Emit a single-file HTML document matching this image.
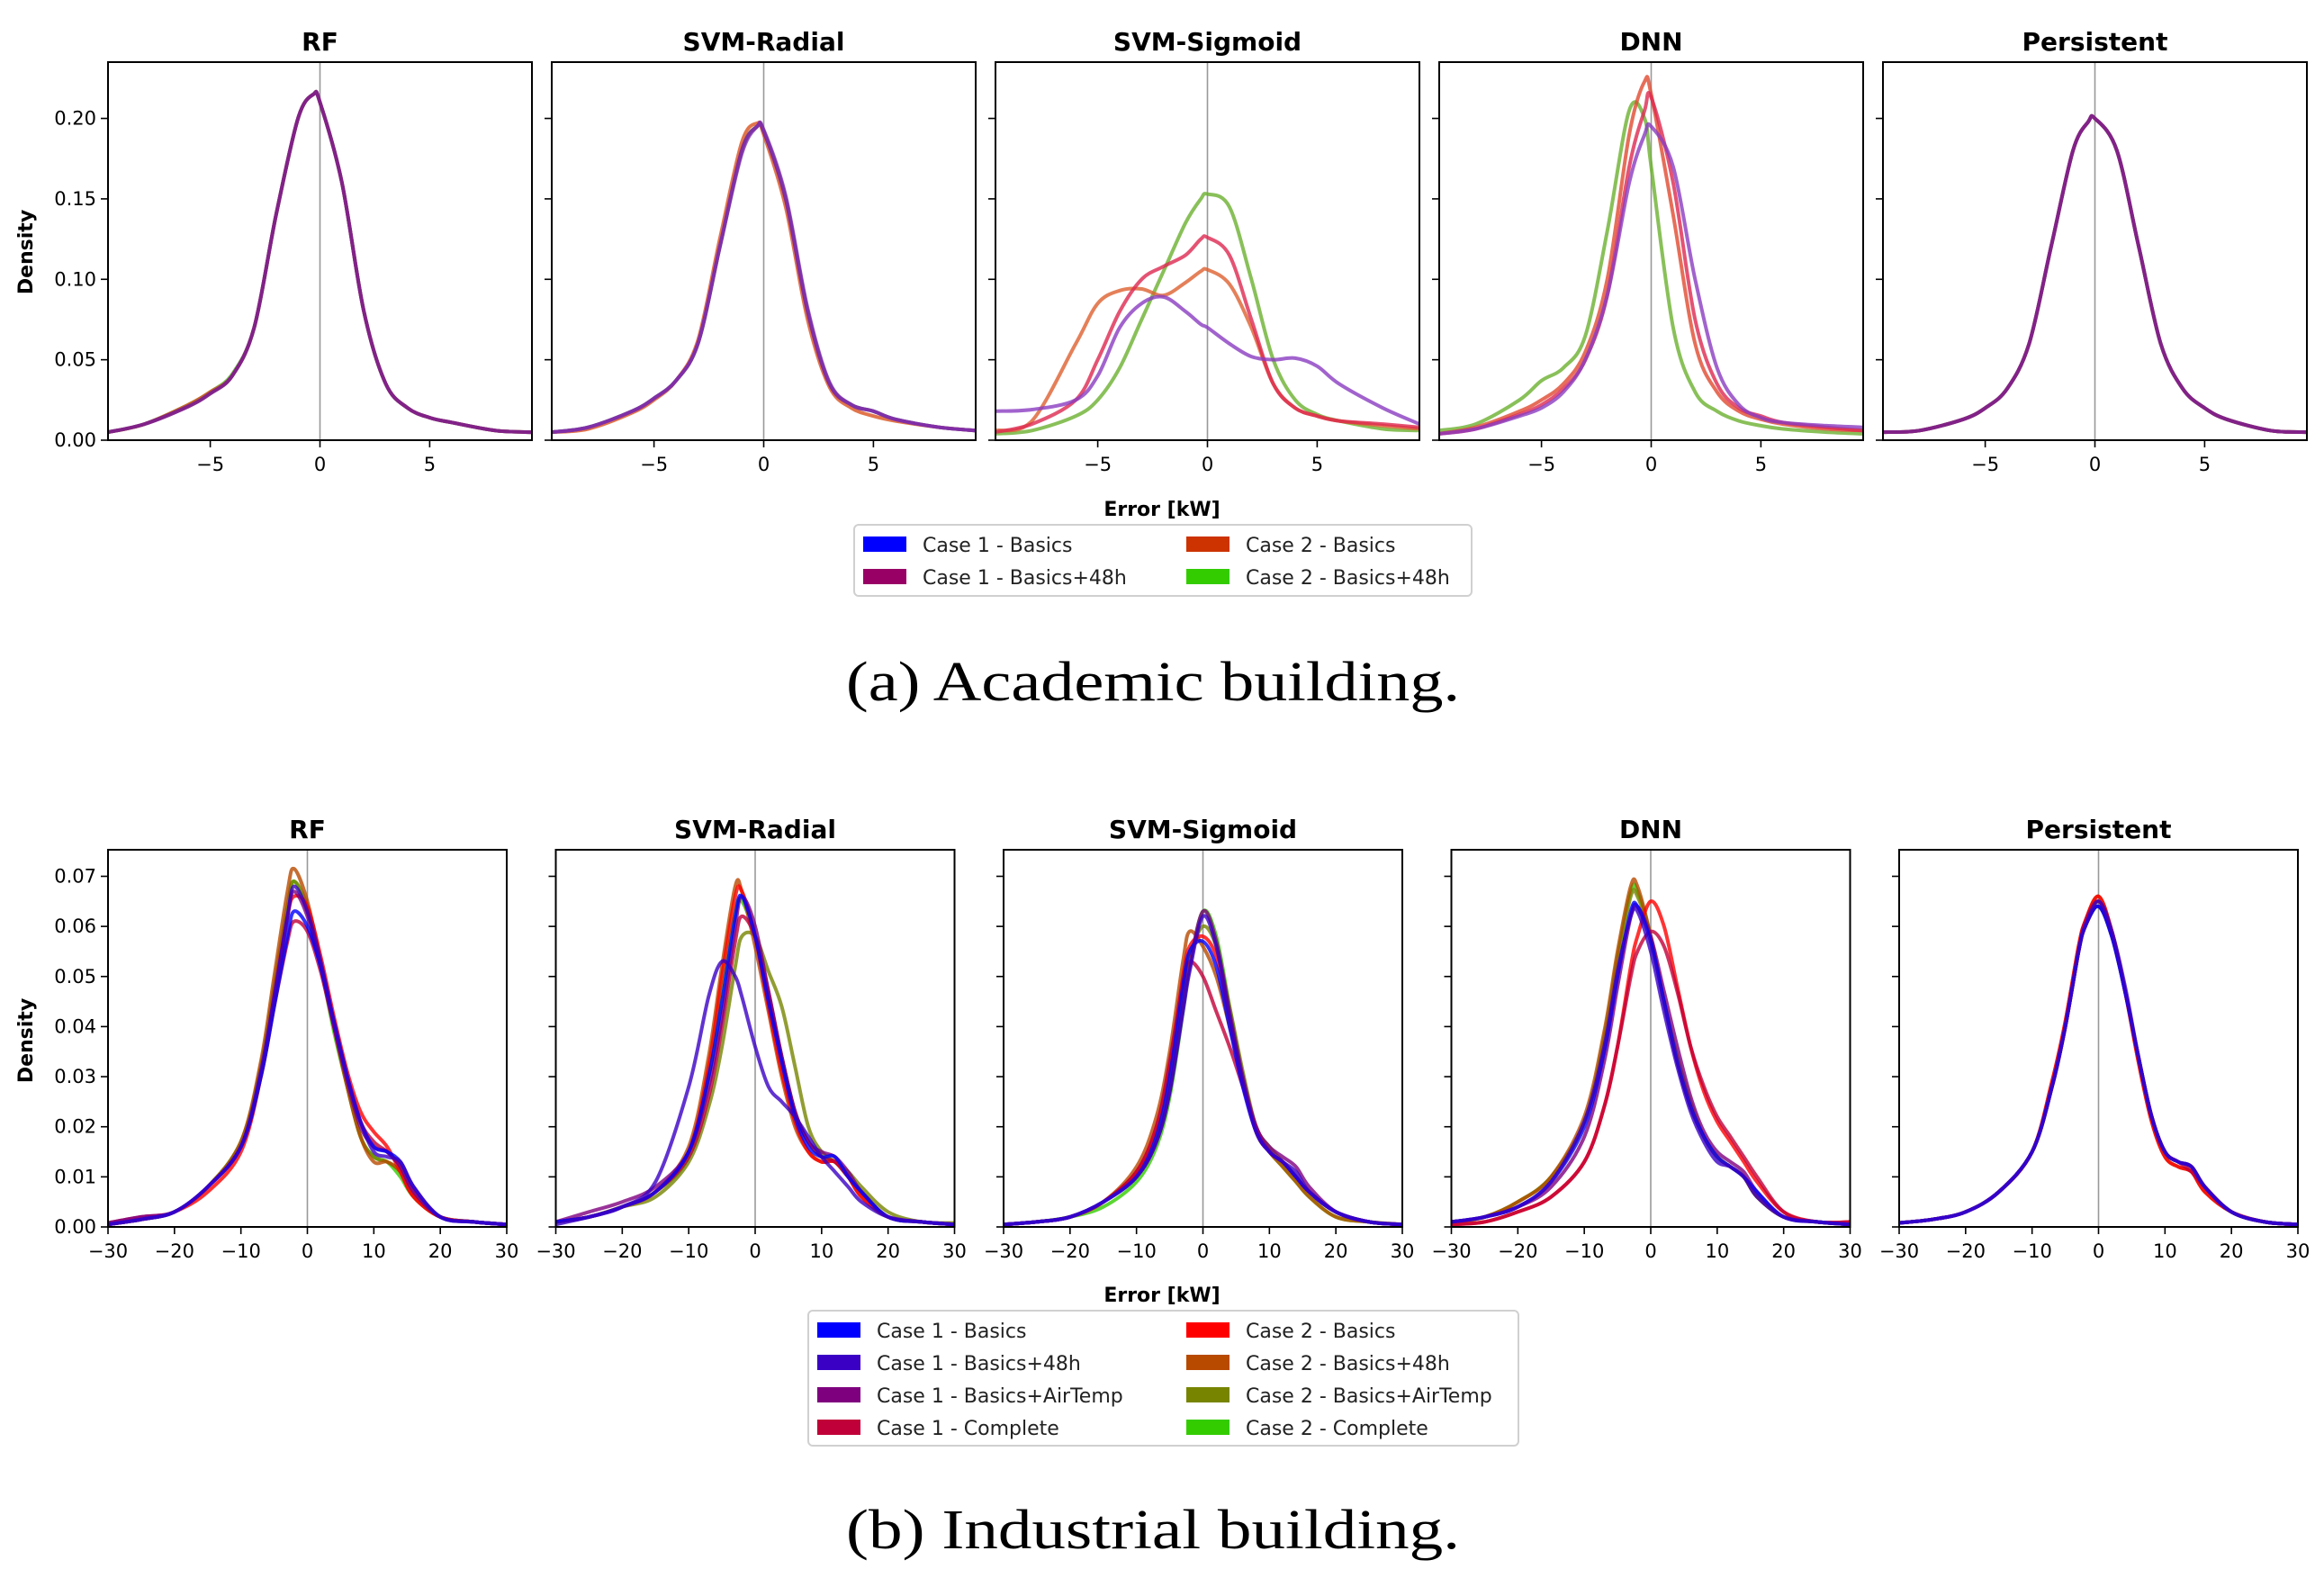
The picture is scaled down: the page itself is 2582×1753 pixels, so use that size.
<!DOCTYPE html>
<html><head><meta charset="utf-8"><style>
html,body{margin:0;padding:0;background:#fff;}
svg{display:block;font-family:"DejaVu Sans","Liberation Sans",sans-serif;}
</style></head><body>
<svg id="fig" width="2582" height="1753" viewBox="0 0 2582 1753" xmlns="http://www.w3.org/2000/svg"></svg>
<script>
// ---------- data ----------
const methods = ["RF","SVM-Radial","SVM-Sigmoid","DNN","Persistent"];
const topSeriesNames = ["Case 1 - Basics","Case 1 - Basics+48h","Case 2 - Basics","Case 2 - Basics+48h"];
const topSeriesColors = ["#0000ff","#990066","#cc3300","#33cc00"];
const topX = [-9.66,-8,-6,-5,-4,-3,-2,-1,-0.3,0,1,2,3,4,5,6,8,9.66];
const topXTicks = [-5,0,5];
const topYTicks = [0,0.05,0.10,0.15,0.20];
const topYLabels = ["0.00","0.05","0.10","0.15","0.20"];
const topRF = [
 [0.005,0.01,0.022,0.03,0.041,0.07,0.14,0.2,0.215,0.21,0.16,0.08,0.035,0.02,0.014,0.011,0.006,0.005],
 [0.005,0.01,0.022,0.03,0.04,0.07,0.14,0.2,0.215,0.21,0.16,0.08,0.035,0.02,0.014,0.011,0.006,0.005],
 [0.005,0.01,0.021,0.029,0.04,0.07,0.14,0.2,0.215,0.21,0.16,0.08,0.035,0.02,0.014,0.011,0.006,0.005],
 [0.005,0.01,0.021,0.029,0.04,0.07,0.14,0.2,0.215,0.21,0.16,0.08,0.035,0.02,0.014,0.011,0.006,0.005]];
const topSVR = [
 [0.005,0.008,0.018,0.026,0.037,0.06,0.12,0.18,0.195,0.192,0.15,0.08,0.035,0.022,0.018,0.013,0.008,0.006],
 [0.005,0.007,0.017,0.025,0.037,0.062,0.125,0.185,0.197,0.19,0.145,0.075,0.033,0.02,0.015,0.012,0.008,0.006],
 [0.005,0.008,0.018,0.026,0.037,0.06,0.12,0.18,0.195,0.192,0.15,0.08,0.035,0.022,0.018,0.013,0.008,0.006],
 [0.005,0.008,0.018,0.026,0.037,0.06,0.12,0.178,0.195,0.193,0.152,0.082,0.036,0.022,0.018,0.013,0.008,0.006]];
const topSVS = [
 [0.004,0.006,0.015,0.025,0.045,0.075,0.105,0.135,0.15,0.153,0.145,0.1,0.05,0.025,0.016,0.012,0.007,0.006],
 [0.006,0.012,0.06,0.085,0.093,0.094,0.09,0.098,0.105,0.106,0.097,0.07,0.035,0.02,0.015,0.012,0.009,0.007],
 [0.005,0.01,0.025,0.05,0.08,0.1,0.108,0.115,0.125,0.126,0.115,0.075,0.035,0.02,0.015,0.012,0.01,0.008],
 [0.018,0.019,0.025,0.04,0.07,0.085,0.089,0.08,0.072,0.07,0.06,0.052,0.05,0.051,0.046,0.035,0.02,0.01]];
const topDNN = [
 [0.006,0.01,0.025,0.037,0.045,0.065,0.13,0.205,0.2,0.17,0.07,0.03,0.018,0.012,0.009,0.007,0.005,0.004],
 [0.004,0.008,0.018,0.025,0.035,0.055,0.1,0.19,0.223,0.215,0.14,0.06,0.03,0.018,0.013,0.01,0.007,0.006],
 [0.004,0.007,0.016,0.022,0.032,0.05,0.09,0.17,0.205,0.213,0.16,0.075,0.035,0.02,0.015,0.011,0.008,0.006],
 [0.004,0.007,0.015,0.02,0.03,0.05,0.09,0.16,0.19,0.195,0.17,0.1,0.045,0.022,0.014,0.011,0.009,0.008]];
const topPers = [
 [0.005,0.006,0.013,0.02,0.032,0.06,0.12,0.18,0.198,0.2,0.18,0.12,0.06,0.032,0.02,0.013,0.006,0.005],
 [0.005,0.006,0.013,0.02,0.032,0.06,0.12,0.18,0.198,0.2,0.18,0.12,0.06,0.032,0.02,0.013,0.006,0.005],
 [0.005,0.006,0.013,0.02,0.032,0.06,0.12,0.18,0.198,0.2,0.18,0.12,0.06,0.032,0.02,0.013,0.006,0.005],
 [0.005,0.006,0.013,0.02,0.032,0.06,0.12,0.18,0.198,0.2,0.18,0.12,0.06,0.032,0.02,0.013,0.006,0.005]];
const topPanels = [topRF,topSVR,topSVS,topDNN,topPers];
const topDrawColorsPerPanel = [
 ["#4caf1a","#d9531e","#7a1a9a","#80208a"],
 ["#4caf1a","#d9531e","#7a1a9a","#8030b0"],
 ["#6cb030","#dd6030","#dd2850","#8a3cc0"],
 ["#6cb030","#e04a30","#dd2850","#8a3cc0"],
 ["#4caf1a","#d9531e","#7a1a9a","#80208a"]];

const botSeriesNames = ["Case 1 - Basics","Case 1 - Basics+48h","Case 1 - Basics+AirTemp","Case 1 - Complete","Case 2 - Basics","Case 2 - Basics+48h","Case 2 - Basics+AirTemp","Case 2 - Complete"];
const botSeriesColors = ["#0000ff","#3a00c4","#7f007f","#c00038","#ff0000","#b84a00","#778400","#33cc00"];
const botX = [-30,-25,-20,-15,-10,-7,-5,-3,-2,0,2,4,6,8,10,12,14,16,20,25,30];
const botXTicks = [-30,-20,-10,0,10,20,30];
const botYTicks = [0,0.01,0.02,0.03,0.04,0.05,0.06,0.07];
const botYLabels = ["0.00","0.01","0.02","0.03","0.04","0.05","0.06","0.07"];
const botRF = [
 [0.0005,0.0015,0.003,0.008,0.016,0.03,0.044,0.058,0.063,0.06,0.052,0.041,0.03,0.021,0.016,0.015,0.013,0.008,0.002,0.001,0.0005],
 [0.0005,0.0015,0.003,0.008,0.016,0.031,0.046,0.062,0.068,0.063,0.053,0.041,0.03,0.021,0.015,0.014,0.013,0.008,0.002,0.001,0.0005],
 [0.0008,0.002,0.003,0.008,0.016,0.03,0.045,0.062,0.067,0.062,0.052,0.04,0.029,0.02,0.016,0.015,0.012,0.007,0.002,0.001,0.0005],
 [0.0008,0.002,0.003,0.008,0.016,0.03,0.044,0.057,0.061,0.059,0.051,0.04,0.03,0.021,0.017,0.015,0.012,0.007,0.002,0.001,0.0005],
 [0.0005,0.0015,0.003,0.007,0.015,0.03,0.046,0.062,0.066,0.064,0.054,0.042,0.031,0.023,0.019,0.016,0.011,0.006,0.002,0.001,0.0005],
 [0.0005,0.0015,0.003,0.008,0.017,0.033,0.05,0.067,0.0715,0.065,0.053,0.04,0.028,0.018,0.013,0.013,0.011,0.006,0.002,0.001,0.0005],
 [0.0005,0.0015,0.003,0.008,0.017,0.032,0.048,0.064,0.069,0.064,0.053,0.04,0.028,0.018,0.014,0.013,0.011,0.006,0.002,0.001,0.0005],
 [0.0005,0.0015,0.003,0.008,0.017,0.032,0.048,0.064,0.069,0.063,0.052,0.039,0.028,0.018,0.014,0.013,0.01,0.006,0.002,0.001,0.0005]];
const botSVR = [
 [0.001,0.002,0.004,0.007,0.015,0.03,0.045,0.062,0.066,0.058,0.045,0.033,0.022,0.016,0.014,0.014,0.01,0.007,0.002,0.001,0.0005],
 [0.0005,0.002,0.004,0.009,0.028,0.046,0.053,0.05,0.046,0.036,0.028,0.025,0.022,0.018,0.014,0.011,0.008,0.005,0.002,0.001,0.0005],
 [0.001,0.003,0.005,0.008,0.015,0.028,0.042,0.06,0.066,0.06,0.047,0.034,0.023,0.017,0.015,0.014,0.011,0.007,0.002,0.001,0.0005],
 [0.001,0.002,0.004,0.007,0.014,0.026,0.04,0.057,0.062,0.058,0.047,0.034,0.023,0.017,0.014,0.013,0.01,0.007,0.002,0.001,0.0005],
 [0.001,0.002,0.004,0.007,0.015,0.032,0.05,0.066,0.067,0.058,0.044,0.031,0.021,0.015,0.013,0.013,0.01,0.006,0.002,0.001,0.0005],
 [0.001,0.002,0.004,0.007,0.016,0.034,0.052,0.068,0.067,0.056,0.043,0.03,0.02,0.015,0.013,0.013,0.01,0.006,0.002,0.001,0.0005],
 [0.001,0.002,0.004,0.006,0.013,0.024,0.036,0.052,0.058,0.058,0.051,0.044,0.032,0.02,0.015,0.013,0.011,0.008,0.003,0.001,0.0008],
 [0.001,0.002,0.004,0.007,0.014,0.03,0.047,0.063,0.065,0.058,0.046,0.034,0.023,0.017,0.014,0.013,0.01,0.007,0.002,0.001,0.0005]];
const botSVS = [
 [0.0005,0.001,0.002,0.005,0.01,0.018,0.03,0.048,0.055,0.057,0.052,0.04,0.028,0.019,0.015,0.013,0.01,0.007,0.003,0.001,0.0005],
 [0.0005,0.001,0.002,0.005,0.01,0.017,0.027,0.043,0.051,0.062,0.056,0.042,0.029,0.019,0.015,0.013,0.011,0.007,0.003,0.001,0.0005],
 [0.0005,0.001,0.002,0.005,0.01,0.017,0.027,0.044,0.052,0.063,0.057,0.043,0.03,0.02,0.016,0.014,0.012,0.008,0.003,0.001,0.0005],
 [0.0005,0.001,0.002,0.005,0.011,0.02,0.033,0.049,0.053,0.05,0.043,0.036,0.028,0.02,0.015,0.013,0.01,0.007,0.003,0.001,0.0005],
 [0.0005,0.001,0.002,0.005,0.011,0.02,0.032,0.05,0.056,0.058,0.054,0.042,0.029,0.019,0.015,0.013,0.01,0.007,0.003,0.001,0.0005],
 [0.0005,0.001,0.002,0.005,0.012,0.022,0.035,0.053,0.059,0.056,0.05,0.04,0.029,0.019,0.015,0.012,0.009,0.006,0.002,0.001,0.0005],
 [0.0005,0.001,0.002,0.005,0.011,0.019,0.03,0.047,0.054,0.06,0.056,0.044,0.031,0.02,0.016,0.013,0.01,0.007,0.003,0.001,0.0005],
 [0.0005,0.001,0.002,0.004,0.009,0.016,0.026,0.043,0.052,0.063,0.058,0.044,0.03,0.019,0.015,0.012,0.009,0.006,0.002,0.001,0.0005]];
const botDNN = [
 [0.001,0.002,0.004,0.009,0.02,0.035,0.05,0.063,0.064,0.057,0.045,0.033,0.024,0.018,0.014,0.012,0.01,0.007,0.002,0.001,0.0005],
 [0.001,0.002,0.004,0.009,0.021,0.036,0.051,0.062,0.063,0.055,0.043,0.032,0.023,0.017,0.013,0.012,0.01,0.006,0.002,0.001,0.0005],
 [0.001,0.002,0.004,0.008,0.018,0.033,0.048,0.062,0.064,0.058,0.047,0.036,0.026,0.019,0.015,0.013,0.011,0.007,0.002,0.001,0.0005],
 [0.0005,0.001,0.003,0.006,0.013,0.024,0.036,0.05,0.055,0.059,0.056,0.047,0.036,0.028,0.022,0.018,0.014,0.01,0.003,0.001,0.001],
 [0.0005,0.001,0.003,0.006,0.013,0.024,0.036,0.052,0.058,0.065,0.06,0.048,0.036,0.027,0.021,0.017,0.013,0.009,0.003,0.001,0.001],
 [0.001,0.002,0.005,0.01,0.022,0.039,0.055,0.068,0.068,0.058,0.045,0.033,0.024,0.018,0.014,0.012,0.01,0.006,0.002,0.001,0.0005],
 [0.001,0.002,0.005,0.01,0.021,0.037,0.053,0.066,0.066,0.058,0.045,0.034,0.025,0.018,0.014,0.012,0.01,0.006,0.002,0.001,0.0005],
 [0.001,0.002,0.005,0.01,0.021,0.038,0.054,0.067,0.067,0.058,0.045,0.033,0.024,0.018,0.014,0.012,0.01,0.006,0.002,0.001,0.0005]];
const botPers = [
 [0.0008,0.0015,0.003,0.007,0.015,0.028,0.04,0.055,0.06,0.064,0.058,0.047,0.034,0.022,0.015,0.013,0.012,0.008,0.003,0.001,0.0005],
 [0.0008,0.0015,0.003,0.007,0.015,0.028,0.04,0.055,0.06,0.065,0.059,0.048,0.034,0.022,0.015,0.013,0.012,0.008,0.003,0.001,0.0005],
 [0.0008,0.0015,0.003,0.007,0.015,0.028,0.04,0.055,0.06,0.064,0.058,0.047,0.034,0.022,0.015,0.013,0.012,0.008,0.003,0.001,0.0005],
 [0.0008,0.0015,0.003,0.007,0.015,0.028,0.04,0.055,0.061,0.065,0.059,0.047,0.034,0.022,0.015,0.013,0.011,0.008,0.003,0.001,0.0005],
 [0.0008,0.0015,0.003,0.007,0.015,0.029,0.041,0.056,0.061,0.066,0.059,0.047,0.033,0.021,0.014,0.012,0.011,0.007,0.003,0.001,0.0005],
 [0.0008,0.0015,0.003,0.007,0.015,0.029,0.041,0.056,0.061,0.066,0.059,0.047,0.033,0.021,0.014,0.012,0.011,0.007,0.003,0.001,0.0005],
 [0.0008,0.0015,0.003,0.007,0.015,0.028,0.04,0.055,0.06,0.065,0.059,0.047,0.034,0.022,0.015,0.013,0.012,0.008,0.003,0.001,0.0005],
 [0.0008,0.0015,0.003,0.007,0.015,0.028,0.04,0.055,0.06,0.064,0.058,0.047,0.034,0.022,0.015,0.013,0.012,0.008,0.003,0.001,0.0005]];
const botPanels = [botRF,botSVR,botSVS,botDNN,botPers];
const botDrawOrder = [7,6,5,4,3,2,0,1];

// ---------- drawing ----------
const NS="http://www.w3.org/2000/svg";
const svg=document.getElementById('fig');
function mk(tag,attrs,parent){const e=document.createElementNS(NS,tag);for(const k in attrs)e.setAttribute(k,attrs[k]);(parent||svg).appendChild(e);return e;}
function txt(s,attrs,parent){const e=mk('text',attrs,parent);e.textContent=s;return e;}
function smoothPath(pts){
  let d=`M${pts[0][0].toFixed(1)},${pts[0][1].toFixed(1)}`;
  for(let i=0;i<pts.length-1;i++){
    const p0=pts[Math.max(0,i-1)],p1=pts[i],p2=pts[i+1],p3=pts[Math.min(pts.length-1,i+2)];
    const c1=[p1[0]+(p2[0]-p0[0])/6,p1[1]+(p2[1]-p0[1])/6];
    const c2=[p2[0]-(p3[0]-p1[0])/6,p2[1]-(p3[1]-p1[1])/6];
    d+=` C${c1[0].toFixed(1)},${c1[1].toFixed(1)} ${c2[0].toFixed(1)},${c2[1].toFixed(1)} ${p2[0].toFixed(1)},${p2[1].toFixed(1)}`;
  }
  return d;
}
function panel(cfg){
  const g=mk('g',{});
  
  
  const sx=v=>cfg.x+(v-cfg.xmin)/(cfg.xmax-cfg.xmin)*cfg.w;
  const sy=v=>cfg.y+cfg.h-(v-cfg.ymin)/(cfg.ymax-cfg.ymin)*cfg.h;
  const z=mk('line',{x1:sx(0),x2:sx(0),y1:cfg.y,y2:cfg.y+cfg.h,stroke:'#999',"stroke-width":1.6},g);
  
  
  cfg.order.forEach(si=>{
    const pts=cfg.xs.map((xv,i)=>[sx(xv),sy(cfg.series[si][i])]);
    const p=mk('path',{d:smoothPath(pts),fill:'none',stroke:cfg.colors[si],"stroke-width":4,"stroke-opacity":0.8,"stroke-linejoin":"round"},g);
    
    
  });
  const f=mk('rect',{x:cfg.x,y:cfg.y,width:cfg.w,height:cfg.h,fill:'none',stroke:'#000',"stroke-width":2},g);
  
  
  cfg.xticks.forEach(t=>{
    mk('line',{x1:sx(t),x2:sx(t),y1:cfg.y+cfg.h,y2:cfg.y+cfg.h+8,stroke:'#000',"stroke-width":1.6},g);
    const l=txt(String(t).replace('-','\u2212'),{x:sx(t),y:cfg.y+cfg.h+34,"font-size":21,"text-anchor":"middle",fill:'#000'},g);
    
    
  });
  cfg.yticks.forEach((t,i)=>{
    mk('line',{x1:cfg.x-8,x2:cfg.x,y1:sy(t),y2:sy(t),stroke:'#000',"stroke-width":1.6},g);
    if(cfg.showY){
      const l=txt(cfg.ylabels[i],{x:cfg.x-13,y:sy(t)+7,"font-size":21,"text-anchor":"end",fill:'#000'},g);
      
      
    }
  });
  const t=txt(cfg.title,{x:cfg.x+cfg.w/2,y:cfg.y-13,"font-size":28,"font-weight":"bold","text-anchor":"middle",fill:'#000'},g);
  
  
}
methods.forEach((m,k)=>{
  panel({name:'top-panel-'+m.toLowerCase(),title:m,x:120+k*493,y:69,w:471,h:420,xmin:-9.66,xmax:9.66,ymin:0,ymax:0.235,
    xs:topX,series:topPanels[k],colors:topDrawColorsPerPanel[k],order:[0,1,2,3],xticks:topXTicks,yticks:topYTicks,ylabels:topYLabels,showY:k===0});
  panel({name:'bottom-panel-'+m.toLowerCase(),title:m,x:120+k*497.5,y:944,w:443,h:419,xmin:-30,xmax:30,ymin:0,ymax:0.0753,
    xs:botX,series:botPanels[k],colors:botSeriesColors,order:botDrawOrder,xticks:botXTicks,yticks:botYTicks,ylabels:botYLabels,showY:k===0});
});
function label(s,a,name){const e=txt(s,a);}
label('Density',{x:0,y:0,transform:'translate(36,280) rotate(-90)',"font-size":22,"font-weight":"bold","text-anchor":"middle"},'y-axis-title-top');
label('Density',{x:0,y:0,transform:'translate(36,1156) rotate(-90)',"font-size":22,"font-weight":"bold","text-anchor":"middle"},'y-axis-title-bottom');
label('Error [kW]',{x:1291,y:573,"font-size":22,"font-weight":"bold","text-anchor":"middle"},'x-axis-title-top');
label('Error [kW]',{x:1291,y:1446,"font-size":22,"font-weight":"bold","text-anchor":"middle"},'x-axis-title-bottom');
label('(a)  Academic building.',{x:940,y:778,"font-size":62,"font-family":"Liberation Serif, serif",textLength:682,lengthAdjust:"spacingAndGlyphs"},'caption-a');
label('(b)  Industrial building.',{x:940,y:1720,"font-size":62,"font-family":"Liberation Serif, serif",textLength:682,lengthAdjust:"spacingAndGlyphs"},'caption-b');
function legend(x,y,w,h,names,colors,rows,colW,name){
  const g=mk('g',{});
  
  
  mk('rect',{x:x,y:y,width:w,height:h,rx:5,fill:'#fff',stroke:'#d0d0d0',"stroke-width":2},g);
  names.forEach((n,i)=>{
    const c=Math.floor(i/rows),r=i%rows;
    const ex=x+10+c*colW, ey=y+10+r*36;
    const it=mk('g',{},g);
    
    
    mk('rect',{x:ex,y:ey+3,width:48,height:17,fill:colors[i]},it);
    txt(n,{x:ex+66,y:ey+20,"font-size":22,fill:'#222'},it);
  });
}
legend(949,583,686,79,topSeriesNames,topSeriesColors,2,359,'legend-top');
legend(898,1456,789,150,botSeriesNames,botSeriesColors,4,410,'legend-bottom');
</script>
</body></html>
